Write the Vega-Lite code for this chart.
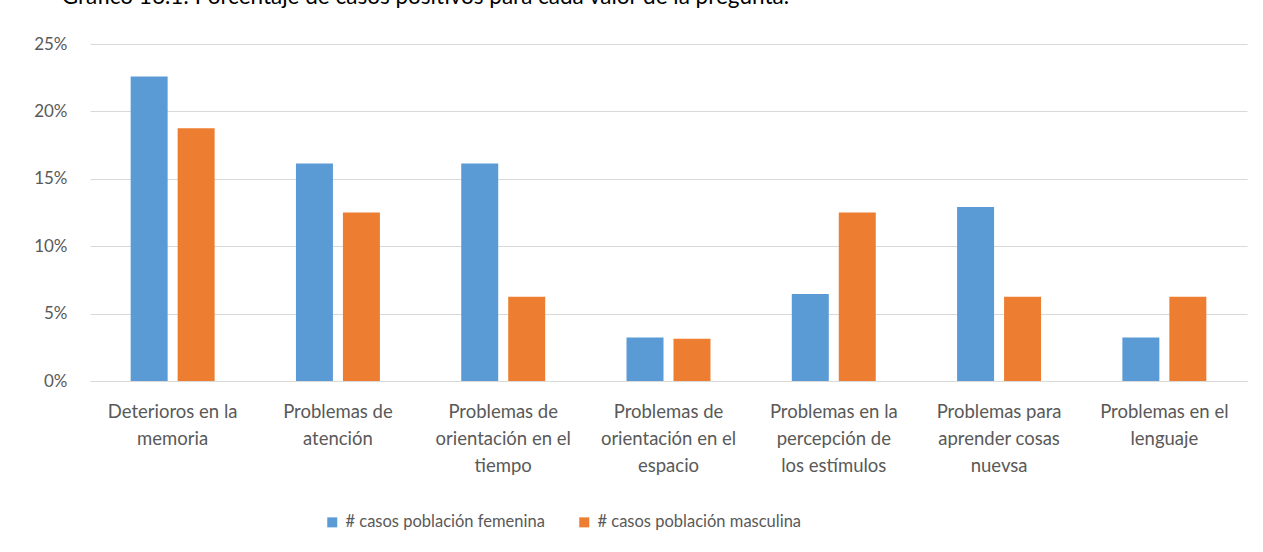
{
  "$schema": "https://vega.github.io/schema/vega-lite/v6.json",
  "width": 1157,
  "height": 337,
  "autosize": {"type": "none"},
  "padding": {"left": 90, "top": 44, "right": 16, "bottom": 171},
  "background": "white",
  "title": {
    "text": "Gráfico 16.1: Porcentaje de casos positivos para cada valor de la pregunta.",
    "anchor": "start",
    "dx": 28,
    "offset": 27,
    "font": "Lato",
    "fontSize": 22.5,
    "fontWeight": "normal",
    "color": "#000000"
  },
  "data": {
    "values": [
      {"categoria": "Deterioros en la memoria", "serie": "# casos población femenina", "valor": 0.2258},
      {"categoria": "Deterioros en la memoria", "serie": "# casos población masculina", "valor": 0.1875},
      {"categoria": "Problemas de atención", "serie": "# casos población femenina", "valor": 0.1613},
      {"categoria": "Problemas de atención", "serie": "# casos población masculina", "valor": 0.125},
      {"categoria": "Problemas de orientación en el tiempo", "serie": "# casos población femenina", "valor": 0.1613},
      {"categoria": "Problemas de orientación en el tiempo", "serie": "# casos población masculina", "valor": 0.0625},
      {"categoria": "Problemas de orientación en el espacio", "serie": "# casos población femenina", "valor": 0.0323},
      {"categoria": "Problemas de orientación en el espacio", "serie": "# casos población masculina", "valor": 0.0313},
      {"categoria": "Problemas en la percepción de los estímulos", "serie": "# casos población femenina", "valor": 0.0645},
      {"categoria": "Problemas en la percepción de los estímulos", "serie": "# casos población masculina", "valor": 0.125},
      {"categoria": "Problemas para aprender cosas nuevsa", "serie": "# casos población femenina", "valor": 0.129},
      {"categoria": "Problemas para aprender cosas nuevsa", "serie": "# casos población masculina", "valor": 0.0625},
      {"categoria": "Problemas en el lenguaje", "serie": "# casos población femenina", "valor": 0.0323},
      {"categoria": "Problemas en el lenguaje", "serie": "# casos población masculina", "valor": 0.0625}
    ]
  },
  "mark": {"type": "bar"},
  "encoding": {
    "x": {
      "field": "categoria",
      "type": "nominal",
      "sort": null,
      "title": null,
      "scale": {"paddingInner": 0.492, "paddingOuter": 0.246},
      "axis": {
        "labelAngle": 0,
        "ticks": false,
        "domain": true,
        "domainColor": "#D9D9D9",
        "domainWidth": 1,
        "labelFont": "Lato",
        "labelFontSize": 18.5,
        "labelColor": "#595959",
        "labelPadding": 21,
        "labelLineHeight": 27,
        "labelBaseline": "top",
        "labelLimit": 0,
        "labelExpr": "datum.label == 'Deterioros en la memoria' ? ['Deterioros en la', 'memoria'] : datum.label == 'Problemas de atención' ? ['Problemas de', 'atención'] : datum.label == 'Problemas de orientación en el tiempo' ? ['Problemas de', 'orientación en el', 'tiempo'] : datum.label == 'Problemas de orientación en el espacio' ? ['Problemas de', 'orientación en el', 'espacio'] : datum.label == 'Problemas en la percepción de los estímulos' ? ['Problemas en la', 'percepción de', 'los estímulos'] : datum.label == 'Problemas para aprender cosas nuevsa' ? ['Problemas para', 'aprender cosas', 'nuevsa'] : ['Problemas en el', 'lenguaje']"
      }
    },
    "xOffset": {
      "field": "serie",
      "type": "nominal",
      "scale": {"paddingInner": 0.2128, "paddingOuter": 0}
    },
    "y": {
      "field": "valor",
      "type": "quantitative",
      "title": null,
      "scale": {"domain": [0, 0.25], "nice": false},
      "axis": {
        "values": [0, 0.05, 0.1, 0.15, 0.2, 0.25],
        "format": ".0%",
        "domain": false,
        "ticks": false,
        "grid": true,
        "gridColor": "#D9D9D9",
        "gridWidth": 1,
        "labelFont": "Lato",
        "labelFontSize": 17,
        "labelColor": "#595959",
        "labelPadding": 23
      }
    },
    "color": {
      "field": "serie",
      "type": "nominal",
      "title": null,
      "scale": {"range": ["#5B9BD5", "#ED7D31"]},
      "legend": {
        "orient": "none",
        "legendX": 234,
        "legendY": 470,
        "direction": "horizontal",
        "symbolType": "square",
        "symbolSize": 100,
        "symbolStrokeWidth": 0,
        "labelFont": "Lato",
        "labelFontSize": 16.5,
        "labelColor": "#595959",
        "labelOffset": 5,
        "columnPadding": 31,
        "labelLimit": 0
      }
    }
  },
  "config": {
    "view": {"stroke": null}
  }
}
